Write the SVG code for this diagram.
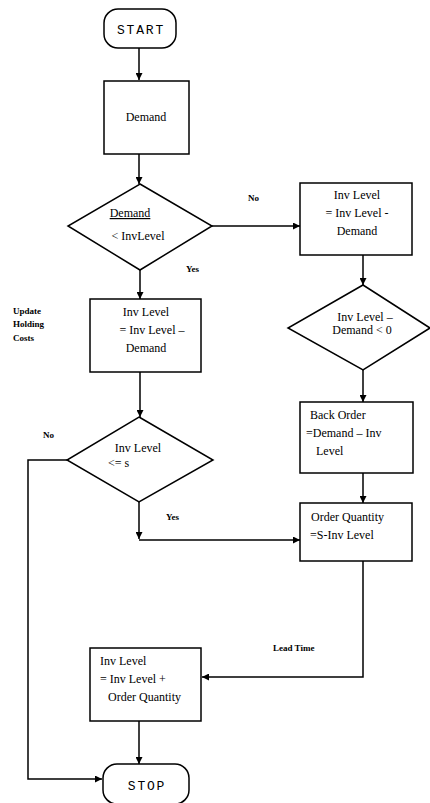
<svg xmlns="http://www.w3.org/2000/svg" width="430" height="803" viewBox="0 0 430 803">
<style>
.s{fill:#fff;stroke:#000;stroke-width:1.5}
.c{text-anchor:middle}
.m{font-family:'Liberation Mono',monospace;font-size:13px;letter-spacing:1.8px;fill:#000;text-anchor:middle}
.l{font-size:9px;font-weight:bold;fill:#000}
.w{fill:none;stroke:#000;stroke-width:1.5}
</style>
<defs>
<marker id="a" viewBox="0 0 10 10" refX="10" refY="5" markerWidth="7" markerHeight="7" orient="auto" markerUnits="userSpaceOnUse"><path d="M0,0L10,5L0,10z" fill="#000"/></marker>
</defs>
<rect width="430" height="803" fill="#fff"/>
<g id="connectors">
<path class="w" d="M139,48V80" marker-end="url(#a)"/>
<path class="w" d="M139,154V184" marker-end="url(#a)"/>
<path class="w" d="M212,226H300" marker-end="url(#a)"/>
<path class="w" d="M140,270V299" marker-end="url(#a)"/>
<path class="w" d="M363,255V285" marker-end="url(#a)"/>
<path class="w" d="M363,370V402" marker-end="url(#a)"/>
<path class="w" d="M140,372V417" marker-end="url(#a)"/>
<path class="w" d="M363,473V503" marker-end="url(#a)"/>
<path class="w" d="M139,502V539" marker-end="url(#a)"/>
<path class="w" d="M139,540H300" marker-end="url(#a)"/>
<path class="w" d="M67,460H28V779H102" marker-end="url(#a)"/>
<path class="w" d="M363,561V677H202" marker-end="url(#a)"/>
<path class="w" d="M139,721V764" marker-end="url(#a)"/>
</g>
<g font-family="Liberation Serif, serif" font-size="12" fill="#000">
<g id="start"><rect class="s" x="104" y="9" width="72" height="39" rx="14"/><text class="m" x="141" y="34">START</text></g>
<g id="demand"><rect class="s" x="104" y="81" width="85" height="73"/><text class="c" x="146" y="121">Demand</text></g>
<g id="d1"><polygon class="s" points="140,184 212,226 140,270 68,226"/><text class="c" x="130" y="217" text-decoration="underline">Demand</text><text class="c" x="138" y="240">&lt; InvLevel</text></g>
<g id="lab1"><text class="l" x="248" y="201">No</text><text class="l" x="186" y="272">Yes</text></g>
<g id="r1"><rect class="s" x="300" y="183" width="112" height="72"/><text class="c" x="357" y="199">Inv Level</text><text class="c" x="357" y="217">= Inv Level -</text><text class="c" x="357" y="235">Demand</text></g>
<g id="d2"><polygon class="s" points="363,285 430,328 363,370 288,328"/><text class="c" x="365" y="321">Inv Level –</text><text class="c" x="362" y="334">Demand &lt; 0</text></g>
<g id="backorder"><rect class="s" x="300" y="402" width="113" height="71"/><text x="310" y="419">Back Order</text><text x="306" y="437">=Demand – Inv</text><text x="316" y="455">Level</text></g>
<g id="orderqty"><rect class="s" x="300" y="503" width="112" height="58"/><text x="311" y="521">Order Quantity</text><text x="310" y="539">=S-Inv Level</text></g>
<g id="update"><text class="l" x="13" y="314">Update</text><text class="l" x="13" y="327">Holding</text><text class="l" x="13" y="341">Costs</text></g>
<g id="l1"><rect class="s" x="90" y="299" width="111" height="73"/><text class="c" x="146" y="316">Inv Level</text><text class="c" x="152" y="334">= Inv Level –</text><text class="c" x="146" y="352">Demand</text></g>
<g id="d3"><polygon class="s" points="139,417 213,460 139,502 67,460"/><text class="c" x="138" y="452">Inv Level</text><text x="108" y="467">&lt;= s</text></g>
<g id="lab2"><text class="l" x="43" y="438">No</text><text class="l" x="166" y="520">Yes</text><text class="l" x="273" y="651">Lead Time</text></g>
<g id="l2"><rect class="s" x="90" y="648" width="111" height="73"/><text x="100" y="665">Inv Level</text><text x="100" y="683">= Inv Level +</text><text x="108" y="701">Order Quantity</text></g>
<g id="stop"><rect class="s" x="103" y="764" width="86" height="40" rx="14"/><text class="m" x="147" y="790">STOP</text></g>
</g>
</svg>
